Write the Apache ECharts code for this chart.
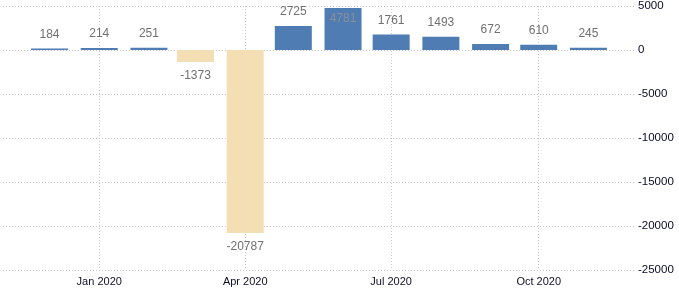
<!DOCTYPE html>
<html>
<head>
<meta charset="utf-8">
<script src="https://cdn.jsdelivr.net/npm/echarts@6/dist/echarts.min.js"></script>
<style>
html,body{margin:0;padding:0;background:#fff;}
#c{width:679px;height:290px;}
</style>
</head>
<body>
<div id="c"></div>
<script>
// Data
var months = ['2019-12-01','2020-01-01','2020-02-01','2020-03-01','2020-04-01','2020-05-01','2020-06-01','2020-07-01','2020-08-01','2020-09-01','2020-10-01','2020-11-01'];
var values = [184, 214, 251, -1373, -20787, 2725, 4781, 1761, 1493, 672, 610, 245];
var xTickDates = ['2020-01-01','2020-04-01','2020-07-01','2020-10-01'];
var xTickLabels = ['Jan 2020','Apr 2020','Jul 2020','Oct 2020'];
var yTicks = [5000, 0, -5000, -10000, -15000, -20000, -25000];

// day number (days since 1970-01-01, UTC) for each date string
function dayNum(s){ var p = s.split('-'); return Math.round(Date.UTC(+p[0], +p[1]-1, +p[2]) / 86400000); }
var tickDays = xTickDates.map(dayNum);

var seriesData = months.map(function(m, i){
  var v = values[i];
  var item = {
    value: [dayNum(m), v],
    itemStyle: { color: v >= 0 ? '#4f7cb3' : '#f3dfb3' },
    label: { position: v >= 0 ? 'top' : 'bottom' }
  };
  if (v === 4781) {
    item.label = { position: 'insideTop', distance: 5, color: '#8a8f99' };
  }
  return item;
});

var chart = echarts.init(document.getElementById('c'));
chart.setOption({
  animation: false,
  grid: { left: 3, right: 45, top: 6, bottom: 20, containLabel: false },
  xAxis: {
    type: 'value',
    min: dayNum(months[0]) - 29,
    max: dayNum(months[months.length - 1]) + 28.4,
    axisLine: { show: false },
    axisTick: { show: false, customValues: tickDays },
    axisLabel: {
      customValues: tickDays,
      margin: 6,
      color: '#101028',
      fontFamily: 'Liberation Sans',
      fontSize: 11,
      formatter: function(v){
        var i = tickDays.indexOf(v);
        return i >= 0 ? xTickLabels[i] : '';
      }
    },
    splitLine: { show: true, lineStyle: { color: '#c8c8c8', type: [1, 2], width: 1 } }
  },
  yAxis: {
    type: 'value',
    position: 'right',
    min: yTicks[yTicks.length - 1],
    max: yTicks[0],
    interval: 5000,
    axisLine: { show: false },
    axisTick: { show: false },
    axisLabel: {
      margin: 4, color: '#0a0a28', fontFamily: 'Liberation Sans', fontSize: 11.5,
      formatter: function(v){ return String(v); }
    },
    splitLine: { show: true, lineStyle: { color: '#c8c8c8', type: [1, 2], width: 1 } }
  },
  series: [{
    type: 'bar',
    barWidth: 37,
    data: seriesData,
    label: {
      show: true,
      distance: 8,
      color: '#707070',
      fontFamily: 'Liberation Sans',
      fontSize: 12,
      formatter: function(p){ return p.value[1]; }
    }
  }]
});
</script>
</body>
</html>
